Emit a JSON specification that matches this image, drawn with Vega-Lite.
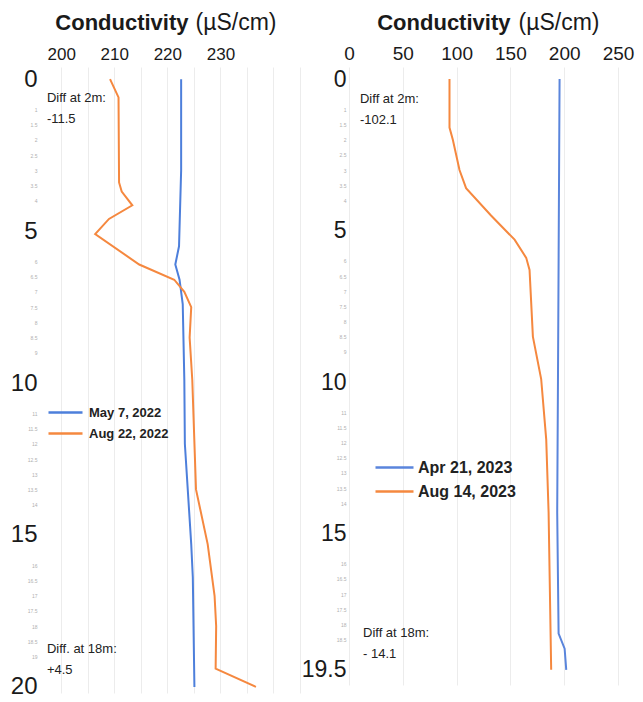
{
  "$schema": "https://vega.github.io/schema/vega-lite/v6.json",
  "background": "white",
  "padding": {"left": 10, "top": 11, "right": 5, "bottom": 5},
  "spacing": 1,
  "config": {
    "view": {"stroke": null},
    "font": "Liberation Sans",
    "axis": {"labelFont": "Liberation Sans", "titleFont": "Liberation Sans", "labelColor": "#1a1a1a", "titleColor": "#1a1a1a"},
    "legend": {"labelFont": "Liberation Sans"},
    "title": {"font": "Liberation Sans", "color": "#1a1a1a"}
  },
  "resolve": {"scale": {"color": "independent"}, "legend": {"color": "independent"}},
  "hconcat": [
    {
      "width": 260,
      "height": 626,
      "title": {"text": "Conductivity", "fontSize": 22, "fontWeight": "bold", "anchor": "start", "dx": 45, "offset": -24},
      "encoding": {
        "x": {"field": "cond", "type": "quantitative",
          "scale": {"domain": [196, 245], "nice": false, "zero": false},
          "axis": {"orient": "top", "values": [200, 205, 210, 215, 220, 225, 230, 235, 240, 245],
            "labelExpr": "datum.value % 10 === 0 && datum.value <= 230 ? datum.label : ''",
            "labelFontSize": 17, "labelPadding": 4, "labelFlush": false, "domain": false, "ticks": false,
            "grid": true, "gridColor": "#ececec",
            "title": "(µS/cm)", "titleX": 155, "titleY": -38, "titleAlign": "left", "titleAnchor": "start",
            "titleBaseline": "alphabetic", "titleFontSize": 23, "titleFontWeight": "normal"}},
        "y": {"field": "depth", "type": "quantitative",
          "scale": {"domain": [-0.4, 20.2], "reverse": true, "nice": false, "zero": false},
          "axis": {"values": [0,1,1.5,2,2.5,3,3.5,4,5,6,6.5,7,7.5,8,8.5,9,10,11,11.5,12,12.5,13,13.5,14,15,16,16.5,17,17.5,18,18.5,19,20],
            "format": "~g", "title": null, "grid": false, "domain": false, "ticks": false,
            "labelOverlap": false, "labelBound": false, "labelPadding": 3,
            "labelFontSize": {"condition": {"test": "datum.value % 5 === 0", "value": 24}, "value": 5},
            "labelColor": {"condition": {"test": "datum.value % 5 === 0", "value": "#1a1a1a"}, "value": "#b0b0b0"}}}
      },
      "layer": [
        {
          "data": {"values": [
            {"series": "May 7, 2022", "depth": 0, "cond": 222.6},
            {"series": "May 7, 2022", "depth": 3, "cond": 222.6},
            {"series": "May 7, 2022", "depth": 5.5, "cond": 222.2},
            {"series": "May 7, 2022", "depth": 6.1, "cond": 221.5},
            {"series": "May 7, 2022", "depth": 6.6, "cond": 222.3},
            {"series": "May 7, 2022", "depth": 7.4, "cond": 222.9},
            {"series": "May 7, 2022", "depth": 9.9, "cond": 223.2},
            {"series": "May 7, 2022", "depth": 12, "cond": 223.3},
            {"series": "May 7, 2022", "depth": 15.3, "cond": 224.5},
            {"series": "May 7, 2022", "depth": 16.4, "cond": 224.8},
            {"series": "May 7, 2022", "depth": 20, "cond": 225.1},
            {"series": "Aug 22, 2022", "depth": 0, "cond": 209.2},
            {"series": "Aug 22, 2022", "depth": 0.6, "cond": 210.8},
            {"series": "Aug 22, 2022", "depth": 3.4, "cond": 210.9},
            {"series": "Aug 22, 2022", "depth": 3.7, "cond": 211.4},
            {"series": "Aug 22, 2022", "depth": 4.15, "cond": 213.4},
            {"series": "Aug 22, 2022", "depth": 4.6, "cond": 209},
            {"series": "Aug 22, 2022", "depth": 5.1, "cond": 206.4},
            {"series": "Aug 22, 2022", "depth": 6.1, "cond": 214.7},
            {"series": "Aug 22, 2022", "depth": 6.6, "cond": 221.3},
            {"series": "Aug 22, 2022", "depth": 7, "cond": 223.2},
            {"series": "Aug 22, 2022", "depth": 7.5, "cond": 224.5},
            {"series": "Aug 22, 2022", "depth": 8.5, "cond": 224.2},
            {"series": "Aug 22, 2022", "depth": 9.9, "cond": 224.7},
            {"series": "Aug 22, 2022", "depth": 13.5, "cond": 225.4},
            {"series": "Aug 22, 2022", "depth": 15.3, "cond": 227.6},
            {"series": "Aug 22, 2022", "depth": 17, "cond": 228.9},
            {"series": "Aug 22, 2022", "depth": 18, "cond": 229.2},
            {"series": "Aug 22, 2022", "depth": 19.4, "cond": 229.1},
            {"series": "Aug 22, 2022", "depth": 20, "cond": 236.7}
          ]},
          "mark": {"type": "line", "strokeWidth": 2},
          "encoding": {
            "color": {"field": "series", "type": "nominal",
              "scale": {"domain": ["May 7, 2022", "Aug 22, 2022"], "range": ["#4d7fdb", "#f5883f"]},
              "legend": {"orient": "none", "legendX": 14, "legendY": 334, "title": null, "padding": 0,
                "symbolType": "M-1.7,0H1.7", "symbolSize": 400, "symbolStrokeWidth": 2.5,
                "labelFontSize": 13, "labelFontWeight": "bold", "labelColor": "#222", "labelOffset": 12, "rowPadding": 2}},
            "order": {"field": "depth", "type": "quantitative"}
          }
        },
        {
          "data": {"values": [
            {"label": "Diff at 2m:\n-11.5", "depth": 0.43, "cond": 197.3},
            {"label": "Diff. at 18m:\n +4.5", "depth": 18.55, "cond": 197.3}
          ]},
          "mark": {"type": "text", "align": "left", "baseline": "top", "fontSize": 13, "lineBreak": "\n", "lineHeight": 21, "color": "#222"},
          "encoding": {
            "text": {"field": "label"}
          }
        }
      ]
    },
    {
      "width": 269,
      "height": 618,
      "title": {"text": "Conductivity", "fontSize": 22, "fontWeight": "bold", "anchor": "start", "dx": 76, "offset": -24},
      "encoding": {
        "x": {"field": "cond", "type": "quantitative",
          "scale": {"domain": [0, 250], "nice": false, "zero": false},
          "axis": {"orient": "top", "values": [0, 50, 100, 150, 200, 250],
            "labelFontSize": 19, "labelPadding": 4, "labelFlush": false, "domain": false, "ticks": false,
            "grid": true, "gridColor": "#ececec",
            "title": "(µS/cm)", "titleX": 169, "titleY": -38, "titleAlign": "left", "titleAnchor": "start",
            "titleBaseline": "alphabetic", "titleFontSize": 23, "titleFontWeight": "normal"}},
        "y": {"field": "depth", "type": "quantitative",
          "scale": {"domain": [-0.4, 20], "reverse": true, "nice": false, "zero": false},
          "axis": {"values": [0,1,1.5,2,2.5,3,3.5,4,5,6,6.5,7,7.5,8,8.5,9,10,11,11.5,12,12.5,13,13.5,14,15,16,16.5,17,17.5,18,18.5,19.5],
            "format": "~g", "title": null, "grid": false, "domain": false, "ticks": false,
            "labelOverlap": false, "labelBound": false, "labelPadding": 3,
            "labelFontSize": {"condition": {"test": "datum.value % 5 === 0 || datum.value === 19.5", "value": 23}, "value": 5},
            "labelColor": {"condition": {"test": "datum.value % 5 === 0 || datum.value === 19.5", "value": "#1a1a1a"}, "value": "#b0b0b0"}}}
      },
      "layer": [
        {
          "data": {"values": [
            {"series": "Apr 21, 2023", "depth": 0, "cond": 195.7},
            {"series": "Apr 21, 2023", "depth": 10, "cond": 194.2},
            {"series": "Apr 21, 2023", "depth": 14.3, "cond": 193.5},
            {"series": "Apr 21, 2023", "depth": 18.3, "cond": 194.8},
            {"series": "Apr 21, 2023", "depth": 18.8, "cond": 200.4},
            {"series": "Apr 21, 2023", "depth": 19.5, "cond": 201.9},
            {"series": "Aug 14, 2023", "depth": 0, "cond": 93.4},
            {"series": "Aug 14, 2023", "depth": 1.6, "cond": 93.4},
            {"series": "Aug 14, 2023", "depth": 2, "cond": 96.5},
            {"series": "Aug 14, 2023", "depth": 3, "cond": 102.7},
            {"series": "Aug 14, 2023", "depth": 3.6, "cond": 108.8},
            {"series": "Aug 14, 2023", "depth": 4.5, "cond": 132},
            {"series": "Aug 14, 2023", "depth": 5.3, "cond": 153.9},
            {"series": "Aug 14, 2023", "depth": 5.9, "cond": 164.7},
            {"series": "Aug 14, 2023", "depth": 6.3, "cond": 167.8},
            {"series": "Aug 14, 2023", "depth": 8.5, "cond": 170.9},
            {"series": "Aug 14, 2023", "depth": 9.9, "cond": 178.6},
            {"series": "Aug 14, 2023", "depth": 11.9, "cond": 183.3},
            {"series": "Aug 14, 2023", "depth": 14.3, "cond": 185.5},
            {"series": "Aug 14, 2023", "depth": 19.5, "cond": 187.9}
          ]},
          "mark": {"type": "line", "strokeWidth": 2},
          "encoding": {
            "color": {"field": "series", "type": "nominal",
              "scale": {"domain": ["Apr 21, 2023", "Aug 14, 2023"], "range": ["#5a85dc", "#f5883f"]},
              "legend": {"orient": "none", "legendX": 34, "legendY": 389, "title": null, "padding": 0,
                "symbolType": "M-1.9,0H1.9", "symbolSize": 400, "symbolStrokeWidth": 2.5,
                "labelFontSize": 16, "labelFontWeight": "bold", "labelColor": "#222", "labelOffset": 12, "rowPadding": 4}},
            "order": {"field": "depth", "type": "quantitative"}
          }
        },
        {
          "data": {"values": [
            {"label": "Diff at 2m:\n-102.1", "depth": 0.45, "cond": 10.2},
            {"label": "Diff at 18m:\n- 14.1", "depth": 18.1, "cond": 13}
          ]},
          "mark": {"type": "text", "align": "left", "baseline": "top", "fontSize": 13, "lineBreak": "\n", "lineHeight": 21, "color": "#222"},
          "encoding": {
            "text": {"field": "label"}
          }
        }
      ]
    }
  ]
}
